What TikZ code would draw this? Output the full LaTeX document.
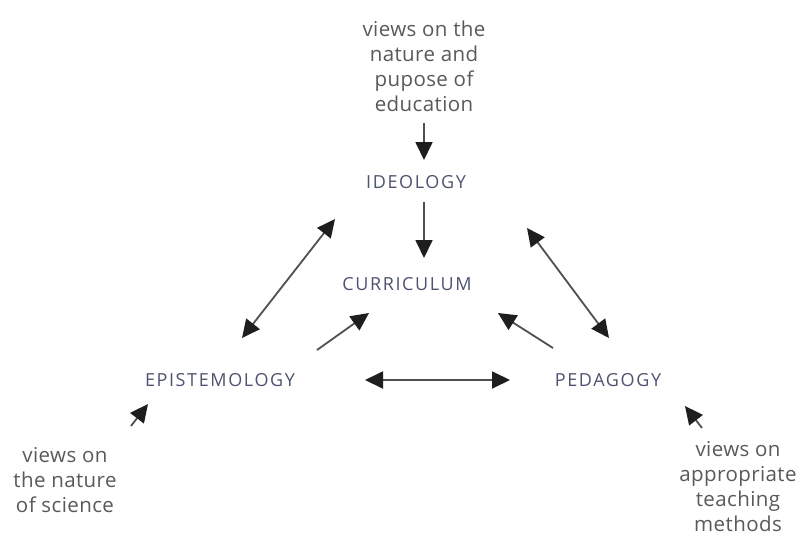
\documentclass[tikz,border=0pt]{standalone}
\usepackage{fontspec}
\setmainfont{Open Sans}
\usetikzlibrary{arrows.meta}
\definecolor{labc}{HTML}{4E5470}
\definecolor{notec}{HTML}{5A5A5E}
\definecolor{linec}{HTML}{505050}
\definecolor{headc}{HTML}{1E1E1E}
\begin{document}
\begin{tikzpicture}[x=1pt,y=-1pt,
  lab/.style={font=\fontsize{18}{21}\selectfont\addfontfeatures{LetterSpace=9}, text=labc, inner sep=0pt},
  note/.style={font=\fontsize{20.5}{25}\selectfont\addfontfeatures{LetterSpace=2}, align=center, text=notec, inner sep=0pt},
  arr/.style={draw=linec, line width=1.8pt, -{Triangle[length=18pt,width=17pt,color=headc]}},
  both/.style={draw=linec, line width=1.8pt, {Triangle[length=18pt,width=17pt,color=headc]}-{Triangle[length=18pt,width=17pt,color=headc]}}]
\useasboundingbox[fill=white] (0,0) rectangle (797,536);
\node[note] (top) at (424,66) {views on the\\nature and\\pupose of\\education};
\node[lab] (ideo) at (416,182) {IDEOLOGY};
\node[lab] (curr) at (407,284) {CURRICULUM};
\node[lab] (epis) at (220,380) {EPISTEMOLOGY};
\node[lab] (peda) at (608,380) {PEDAGOGY};
\node[note] (sci) at (65,480) {views on\\the nature\\of science};
\node[note] (meth) at (738,487) {views on\\appropriate\\teaching\\methods};
\draw[arr] ([shift={(0,57)}]top.center) -- ([shift={(8,-22)}]ideo.center);
\draw[arr] ([shift={(8,20)}]ideo.center) -- ([shift={(17,-26)}]curr.center);
\draw[both] ([shift={(-81,37)}]ideo.center) -- ([shift={(22,-42)}]epis.center);
\draw[arr] ([shift={(97,-30)}]epis.center) -- ([shift={(-38,29)}]curr.center);
\draw[both] ([shift={(145,0)}]epis.center) -- ([shift={(-98,0)}]peda.center);
\draw[arr] ([shift={(-55,-32)}]peda.center) -- ([shift={(91,29)}]curr.center);
\draw[both] ([shift={(111,46)}]ideo.center) -- ([shift={(1,-42)}]peda.center);
\draw[arr] ([shift={(66,-54)}]sci.center) -- ([shift={(-72,24)}]epis.center);
\draw[arr] ([shift={(-36,-59)}]meth.center) -- ([shift={(77,26)}]peda.center);
\end{tikzpicture}
\end{document}
